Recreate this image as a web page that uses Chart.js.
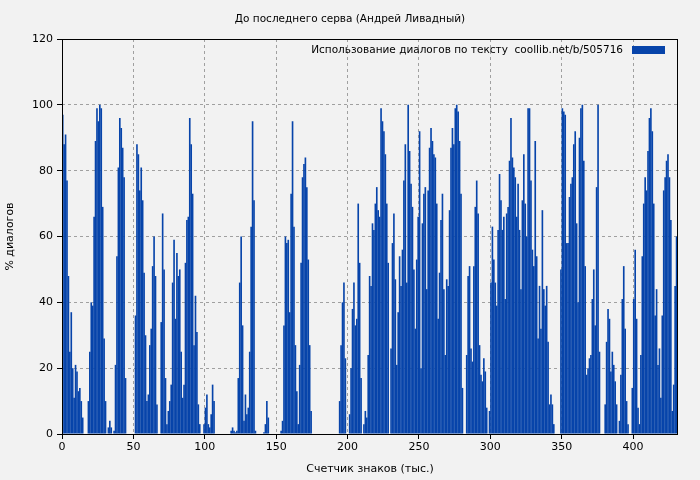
<!DOCTYPE html>
<html><head><meta charset="utf-8">
<script src="https://cdn.jsdelivr.net/npm/chart.js@4/dist/chart.umd.min.js"></script>
<style>html,body{margin:0;padding:0;background:#f2f2f2}#w{width:700px;height:480px}</style>
</head><body><div id="w"><canvas id="c"></canvas></div>
<script>
const chartTitle = "До последнего серва (Андрей Ливадный)";
const seriesLabel = "Использование диалогов по тексту  coollib.net/b/505716";
const xTitle = "Счетчик знаков (тыс.)";
const yTitle = "% диалогов";
const yTicks = [0,20,40,60,80,100,120];
const xTicks = [0,50,100,150,200,250,300,350,400];
const dialogPercent = [
97,88,91,77,48,25,37,20,11,21,19,13,14,10,5,
0,0,0,
10,25,40,39,66,89,99,95,100,99,69,29,10,
0,2,4,2,0,
1,21,54,81,96,93,87,78,17,
0,0,0,0,0,0,
36,88,85,74,
81,71,49,30,10,12,27,32,51,60,48,9,
0,0,
34,67,50,17,3,7,10,15,46,59,35,55,48,50,25,11,15,52,65,66,96,88,73,27,42,31,9,3,
0,0,
3,8,12,3,2,6,15,10,
0,0,0,0,0,0,0,0,0,0,0,
1,2,1,0.5,1,17,46,60,33,4,12,6,8,25,63,95,71,1,
0,0,0,0,0,
0.5,3,10,5,
0,0,0,0,0,0,0,0,
1,4,33,60,58,59,37,73,95,63,27,13,3,21,
52,78,82,84,75,53,27,7,
0,0,0,0,0,0,0,0,0,0,0,0,0,0,0,0,0,0,0,
10,27,40,46,23,
0,0,
6,20,38,46,33,35,70,52,17,
0,
3,7,5,24,48,45,64,62,70,75,68,66,
99,95,92,85,70,52,0,26,58,67,47,21,37,54,45,56,77,88,46,100,86,76,69,50,32,53,66,92,20,64,73,75,44,74,87,93,89,85,84,70,35,49,65,73,44,24,47,45,68,87,93,88,99,100,98,89,
73,14,0,0,24,48,51,26,22,51,69,77,67,27,18,16,23,19,8,0,7,46,63,53,46,39,62,79,71,62,66,41,67,69,83,96,84,81,78,66,76,62,44,71,85,70,60,99,99,77,56,51,89,54,29,45,
32,68,44,39,45,28,9,12,9,3,0,0,0,0,50,99,98,97,58,58,72,76,78,88,92,64,40,90,99,100,83,51,18,20,23,24,41,50,33,75,100,25,0,0,0,9,28,38,35,
19,25,21,16,9,0,4,18,41,51,32,10,3,0,0,14,41,56,35,8,3,24,54,70,78,74,86,96,99,92,70,36,44,21,26,11,36,74,78,83,85,78,65,7,15,45,60,30
];
const barColor = "#0744aa";
const font = "'DejaVu Sans', sans-serif";

const pts = dialogPercent.map((v,i)=>({x:i+0.5,y:v}));

const deco = {
  id:'deco',
  afterDraw(ch){
    const c=ch.ctx, a=ch.chartArea;
    c.save();
    c.strokeStyle='#000'; c.lineWidth=1;
    c.strokeRect(a.left+0.5,a.top+0.5,a.right-a.left-1,a.bottom-a.top);
    c.fillStyle='#000'; c.font="10.5px "+font; c.textAlign='center'; c.textBaseline='middle';
    c.fillText(chartTitle,350,19);
    c.textAlign='right';
    c.fillText(seriesLabel,623,50);
    c.fillStyle=barColor; c.fillRect(632,46,33,8);
    c.restore();
  }
};

new Chart(document.getElementById('c'),{
  type:'bar',
  data:{datasets:[{data:pts,backgroundColor:barColor,borderColor:barColor,borderWidth:0,barPercentage:1.15,categoryPercentage:1}]},
  options:{
    animation:false,responsive:true,maintainAspectRatio:false,
    layout:{padding:{top:39,right:22,left:0,bottom:0}},
    plugins:{legend:{display:false},title:{display:false},tooltip:{enabled:false}},
    scales:{
      x:{type:'linear',min:0,max:431.5,offset:false,bounds:'ticks',
        afterFit(s){s.height=46;},
        afterBuildTicks(s){s.ticks=xTicks.map(v=>({value:v}));},
        ticks:{color:'#000',font:{family:font,size:11},maxRotation:0,padding:2},
        grid:{color:'#a0a0a0',tickColor:'#000',tickLength:5,offset:false,tickBorderDash:[]},
        border:{display:false,dash:[3,3]},
        title:{display:true,text:xTitle,color:'#000',font:{family:font,size:11},padding:{top:0}}
      },
      y:{min:0,max:120,
        afterFit(s){s.width=62;},
        afterBuildTicks(s){s.ticks=yTicks.map(v=>({value:v}));},
        ticks:{color:'#000',font:{family:font,size:11},padding:4},
        grid:{color:'#a0a0a0',tickColor:'#000',tickLength:5,tickBorderDash:[]},
        border:{display:false,dash:[3,3]},
        title:{display:true,text:yTitle,color:'#000',font:{family:font,size:11},padding:{bottom:6}}
      }
    }
  },
  plugins:[deco]
});
</script></body></html>
